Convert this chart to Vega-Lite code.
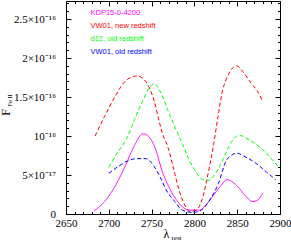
{
 "$schema": "https://vega.github.io/schema/vega-lite/v6.json",
 "width": 214, "height": 213,
 "autosize": {"type": "none"},
 "padding": {"left": 66, "top": 1, "right": 11, "bottom": 27},
 "background": "white",
 "config": {
  "view": {"stroke": null},
  "axis": {"grid": false, "domainColor": "black", "tickColor": "black", "labelColor": "black", "titleColor": "black", "labelFont": "Liberation Serif", "titleFont": "Liberation Serif", "titleFontWeight": "normal", "labelFontSize": 11, "domainWidth": 1, "tickWidth": 1}
 },
 "datasets": {
  "d": [
   {"s": "KDP15-0-4200", "lam": 2683, "F": 0.04e-16},
   {"s": "KDP15-0-4200", "lam": 2695, "F": 0.16e-16},
   {"s": "KDP15-0-4200", "lam": 2707, "F": 0.35e-16},
   {"s": "KDP15-0-4200", "lam": 2719, "F": 0.61e-16},
   {"s": "KDP15-0-4200", "lam": 2730, "F": 0.88e-16},
   {"s": "KDP15-0-4200", "lam": 2740, "F": 1.03e-16},
   {"s": "KDP15-0-4200", "lam": 2749, "F": 0.96e-16},
   {"s": "KDP15-0-4200", "lam": 2755, "F": 0.82e-16},
   {"s": "KDP15-0-4200", "lam": 2762, "F": 0.56e-16},
   {"s": "KDP15-0-4200", "lam": 2771, "F": 0.33e-16},
   {"s": "KDP15-0-4200", "lam": 2782, "F": 0.14e-16},
   {"s": "KDP15-0-4200", "lam": 2794, "F": 0.05e-16},
   {"s": "KDP15-0-4200", "lam": 2806, "F": 0.05e-16},
   {"s": "KDP15-0-4200", "lam": 2818, "F": 0.18e-16},
   {"s": "KDP15-0-4200", "lam": 2830, "F": 0.35e-16},
   {"s": "KDP15-0-4200", "lam": 2838, "F": 0.44e-16},
   {"s": "KDP15-0-4200", "lam": 2849, "F": 0.37e-16},
   {"s": "KDP15-0-4200", "lam": 2859, "F": 0.24e-16},
   {"s": "KDP15-0-4200", "lam": 2868, "F": 0.16e-16},
   {"s": "KDP15-0-4200", "lam": 2874, "F": 0.18e-16},
   {"s": "KDP15-0-4200", "lam": 2880, "F": 0.27e-16},
   {"s": "VW01, new redshift", "lam": 2684, "F": 1.00e-16},
   {"s": "VW01, new redshift", "lam": 2695, "F": 1.25e-16},
   {"s": "VW01, new redshift", "lam": 2707, "F": 1.50e-16},
   {"s": "VW01, new redshift", "lam": 2719, "F": 1.70e-16},
   {"s": "VW01, new redshift", "lam": 2733, "F": 1.77e-16},
   {"s": "VW01, new redshift", "lam": 2743, "F": 1.70e-16},
   {"s": "VW01, new redshift", "lam": 2753, "F": 1.45e-16},
   {"s": "VW01, new redshift", "lam": 2759, "F": 1.18e-16},
   {"s": "VW01, new redshift", "lam": 2763, "F": 1.02e-16},
   {"s": "VW01, new redshift", "lam": 2769, "F": 0.86e-16},
   {"s": "VW01, new redshift", "lam": 2775, "F": 0.61e-16},
   {"s": "VW01, new redshift", "lam": 2782, "F": 0.31e-16},
   {"s": "VW01, new redshift", "lam": 2790, "F": 0.09e-16},
   {"s": "VW01, new redshift", "lam": 2796, "F": 0.03e-16},
   {"s": "VW01, new redshift", "lam": 2804, "F": 0.07e-16},
   {"s": "VW01, new redshift", "lam": 2810, "F": 0.22e-16},
   {"s": "VW01, new redshift", "lam": 2816, "F": 0.52e-16},
   {"s": "VW01, new redshift", "lam": 2822, "F": 0.86e-16},
   {"s": "VW01, new redshift", "lam": 2828, "F": 1.28e-16},
   {"s": "VW01, new redshift", "lam": 2833, "F": 1.59e-16},
   {"s": "VW01, new redshift", "lam": 2837, "F": 1.72e-16},
   {"s": "VW01, new redshift", "lam": 2843, "F": 1.85e-16},
   {"s": "VW01, new redshift", "lam": 2849, "F": 1.90e-16},
   {"s": "VW01, new redshift", "lam": 2857, "F": 1.82e-16},
   {"s": "VW01, new redshift", "lam": 2866, "F": 1.68e-16},
   {"s": "VW01, new redshift", "lam": 2874, "F": 1.57e-16},
   {"s": "VW01, new redshift", "lam": 2880, "F": 1.44e-16},
   {"s": "d12, old redshift", "lam": 2700, "F": 0.60e-16},
   {"s": "d12, old redshift", "lam": 2711, "F": 0.80e-16},
   {"s": "d12, old redshift", "lam": 2721, "F": 0.97e-16},
   {"s": "d12, old redshift", "lam": 2730, "F": 1.21e-16},
   {"s": "d12, old redshift", "lam": 2740, "F": 1.46e-16},
   {"s": "d12, old redshift", "lam": 2748, "F": 1.63e-16},
   {"s": "d12, old redshift", "lam": 2753, "F": 1.67e-16},
   {"s": "d12, old redshift", "lam": 2761, "F": 1.55e-16},
   {"s": "d12, old redshift", "lam": 2769, "F": 1.33e-16},
   {"s": "d12, old redshift", "lam": 2777, "F": 1.12e-16},
   {"s": "d12, old redshift", "lam": 2786, "F": 0.90e-16},
   {"s": "d12, old redshift", "lam": 2794, "F": 0.69e-16},
   {"s": "d12, old redshift", "lam": 2802, "F": 0.54e-16},
   {"s": "d12, old redshift", "lam": 2810, "F": 0.44e-16},
   {"s": "d12, old redshift", "lam": 2816, "F": 0.43e-16},
   {"s": "d12, old redshift", "lam": 2822, "F": 0.48e-16},
   {"s": "d12, old redshift", "lam": 2830, "F": 0.62e-16},
   {"s": "d12, old redshift", "lam": 2837, "F": 0.79e-16},
   {"s": "d12, old redshift", "lam": 2845, "F": 0.95e-16},
   {"s": "d12, old redshift", "lam": 2852, "F": 1.01e-16},
   {"s": "d12, old redshift", "lam": 2864, "F": 0.95e-16},
   {"s": "d12, old redshift", "lam": 2876, "F": 0.86e-16},
   {"s": "d12, old redshift", "lam": 2888, "F": 0.73e-16},
   {"s": "d12, old redshift", "lam": 2898, "F": 0.61e-16},
   {"s": "VW01, old redshift", "lam": 2700, "F": 0.52e-16},
   {"s": "VW01, old redshift", "lam": 2711, "F": 0.61e-16},
   {"s": "VW01, old redshift", "lam": 2722, "F": 0.68e-16},
   {"s": "VW01, old redshift", "lam": 2733, "F": 0.71e-16},
   {"s": "VW01, old redshift", "lam": 2743, "F": 0.71e-16},
   {"s": "VW01, old redshift", "lam": 2753, "F": 0.61e-16},
   {"s": "VW01, old redshift", "lam": 2761, "F": 0.45e-16},
   {"s": "VW01, old redshift", "lam": 2767, "F": 0.31e-16},
   {"s": "VW01, old redshift", "lam": 2777, "F": 0.16e-16},
   {"s": "VW01, old redshift", "lam": 2786, "F": 0.05e-16},
   {"s": "VW01, old redshift", "lam": 2798, "F": 0.02e-16},
   {"s": "VW01, old redshift", "lam": 2808, "F": 0.05e-16},
   {"s": "VW01, old redshift", "lam": 2818, "F": 0.18e-16},
   {"s": "VW01, old redshift", "lam": 2828, "F": 0.39e-16},
   {"s": "VW01, old redshift", "lam": 2837, "F": 0.68e-16},
   {"s": "VW01, old redshift", "lam": 2843, "F": 0.75e-16},
   {"s": "VW01, old redshift", "lam": 2849, "F": 0.78e-16},
   {"s": "VW01, old redshift", "lam": 2860, "F": 0.73e-16},
   {"s": "VW01, old redshift", "lam": 2872, "F": 0.65e-16},
   {"s": "VW01, old redshift", "lam": 2884, "F": 0.54e-16},
   {"s": "VW01, old redshift", "lam": 2895, "F": 0.44e-16}
  ]
 },
 "layer": [
  {
   "data": {"name": "d"},
   "mark": {"type": "line", "interpolate": "monotone", "strokeWidth": 1},
   "encoding": {
    "x": {"field": "lam", "type": "quantitative", "scale": {"domain": [2650, 2900], "nice": false, "zero": false},
     "axis": {"orient": "bottom", "values": [2650, 2700, 2750, 2800, 2850, 2900], "tickSize": -5, "labelPadding": 17.7, "labelBaseline": "alphabetic", "labelFlush": false, "labelOverlap": false, "format": "d",
      "title": "λ", "titleFontSize": 12, "titleX": 100, "titleY": 23, "titleBaseline": "alphabetic", "titleAlign": "center", "titleAnchor": null}},
    "y": {"field": "F", "type": "quantitative", "scale": {"domain": [0, 2.731e-16], "nice": false},
     "axis": {"orient": "left", "values": [0, 5e-17, 1e-16, 1.5e-16, 2e-16, 2.5e-16], "tickSize": -5, "labelPadding": 15.5, "labelFlush": false, "labelOverlap": false,
      "labelExpr": "round(datum.value*1e17) == 0 ? '0' : round(datum.value*1e17) == 5 ? '5×10⁻¹⁷' : round(datum.value*1e17) == 10 ? '10⁻¹⁶' : round(datum.value*1e17) == 15 ? '1.5×10⁻¹⁶' : round(datum.value*1e17) == 20 ? '2×10⁻¹⁶' : '2.5×10⁻¹⁶'",
      "title": "F", "titleFontSize": 12, "titleX": -57, "titleY": 111, "titleBaseline": "alphabetic", "titleAlign": "center", "titleAngle": 270, "titleAnchor": null}},
    "color": {"field": "s", "type": "nominal",
     "scale": {"domain": ["KDP15-0-4200", "VW01, new redshift", "d12, old redshift", "VW01, old redshift"], "range": ["#ff00ff", "#ff0000", "#00ff00", "#0000ff"]},
     "legend": {"orient": "none", "legendX": 17, "legendY": 8.5, "title": null, "symbolOpacity": 0, "symbolSize": 0, "symbolStrokeWidth": 0, "labelOffset": 0, "labelFontSize": 7.5, "labelFont": "Liberation Sans", "rowPadding": 4, "padding": 0,
      "encode": {"labels": {"update": {"fill": {"scale": "color", "field": "value"}}}}}},
    "strokeDash": {"field": "s", "type": "nominal",
     "scale": {"domain": ["KDP15-0-4200", "VW01, new redshift", "d12, old redshift", "VW01, old redshift"], "range": [[1, 0], [4, 2.5], [4, 2.5], [4, 2.5]]},
     "legend": null}
   }
  },
  {
   "data": {"name": "d"},
   "mark": {"type": "point", "opacity": 0, "size": 0},
   "encoding": {
    "x": {"field": "lam", "type": "quantitative", "scale": {"domain": [2650, 2900], "nice": false, "zero": false},
     "axis": {"orient": "bottom", "values": [2660, 2670, 2680, 2690, 2710, 2720, 2730, 2740, 2760, 2770, 2780, 2790, 2810, 2820, 2830, 2840, 2860, 2870, 2880, 2890], "tickSize": -2.5, "labels": false, "domain": false,
      "title": "rest", "titleFontSize": 7, "titleX": 110, "titleY": 25.3, "titleBaseline": "alphabetic", "titleAlign": "center", "titleAnchor": null}},
    "y": {"field": "F", "type": "quantitative", "scale": {"domain": [0, 2.731e-16], "nice": false},
     "axis": {"orient": "left", "values": [1e-17, 2e-17, 3e-17, 4e-17, 6e-17, 7e-17, 8e-17, 9e-17, 1.1e-16, 1.2e-16, 1.3e-16, 1.4e-16, 1.6e-16, 1.7e-16, 1.8e-16, 1.9e-16, 2.1e-16, 2.2e-16, 2.3e-16, 2.4e-16, 2.6e-16, 2.7e-16], "tickSize": -2.5, "labels": false, "domain": false,
      "title": "Fe II", "titleFontSize": 6.5, "titleX": -55, "titleY": 99, "titleBaseline": "alphabetic", "titleAlign": "center", "titleAngle": 270, "titleAnchor": null}}
   }
  },
  {
   "data": {"name": "d"},
   "mark": {"type": "point", "opacity": 0, "size": 0},
   "encoding": {
    "x": {"field": "lam", "type": "quantitative", "scale": {"domain": [2650, 2900], "nice": false, "zero": false},
     "axis": {"orient": "top", "values": [2650, 2700, 2750, 2800, 2850, 2900], "tickSize": -5, "labels": false, "title": null}},
    "y": {"field": "F", "type": "quantitative", "scale": {"domain": [0, 2.731e-16], "nice": false},
     "axis": {"orient": "right", "values": [0, 5e-17, 1e-16, 1.5e-16, 2e-16, 2.5e-16], "tickSize": -5, "labels": false, "title": null}}
   }
  },
  {
   "data": {"name": "d"},
   "mark": {"type": "point", "opacity": 0, "size": 0},
   "encoding": {
    "x": {"field": "lam", "type": "quantitative", "scale": {"domain": [2650, 2900], "nice": false, "zero": false},
     "axis": {"orient": "top", "values": [2660, 2670, 2680, 2690, 2710, 2720, 2730, 2740, 2760, 2770, 2780, 2790, 2810, 2820, 2830, 2840, 2860, 2870, 2880, 2890], "tickSize": -2.5, "labels": false, "domain": false, "title": null}},
    "y": {"field": "F", "type": "quantitative", "scale": {"domain": [0, 2.731e-16], "nice": false},
     "axis": {"orient": "right", "values": [1e-17, 2e-17, 3e-17, 4e-17, 6e-17, 7e-17, 8e-17, 9e-17, 1.1e-16, 1.2e-16, 1.3e-16, 1.4e-16, 1.6e-16, 1.7e-16, 1.8e-16, 1.9e-16, 2.1e-16, 2.2e-16, 2.3e-16, 2.4e-16, 2.6e-16, 2.7e-16], "tickSize": -2.5, "labels": false, "domain": false, "title": null}}
   }
  }
 ],
 "resolve": {"axis": {"x": "independent", "y": "independent"}}
}
